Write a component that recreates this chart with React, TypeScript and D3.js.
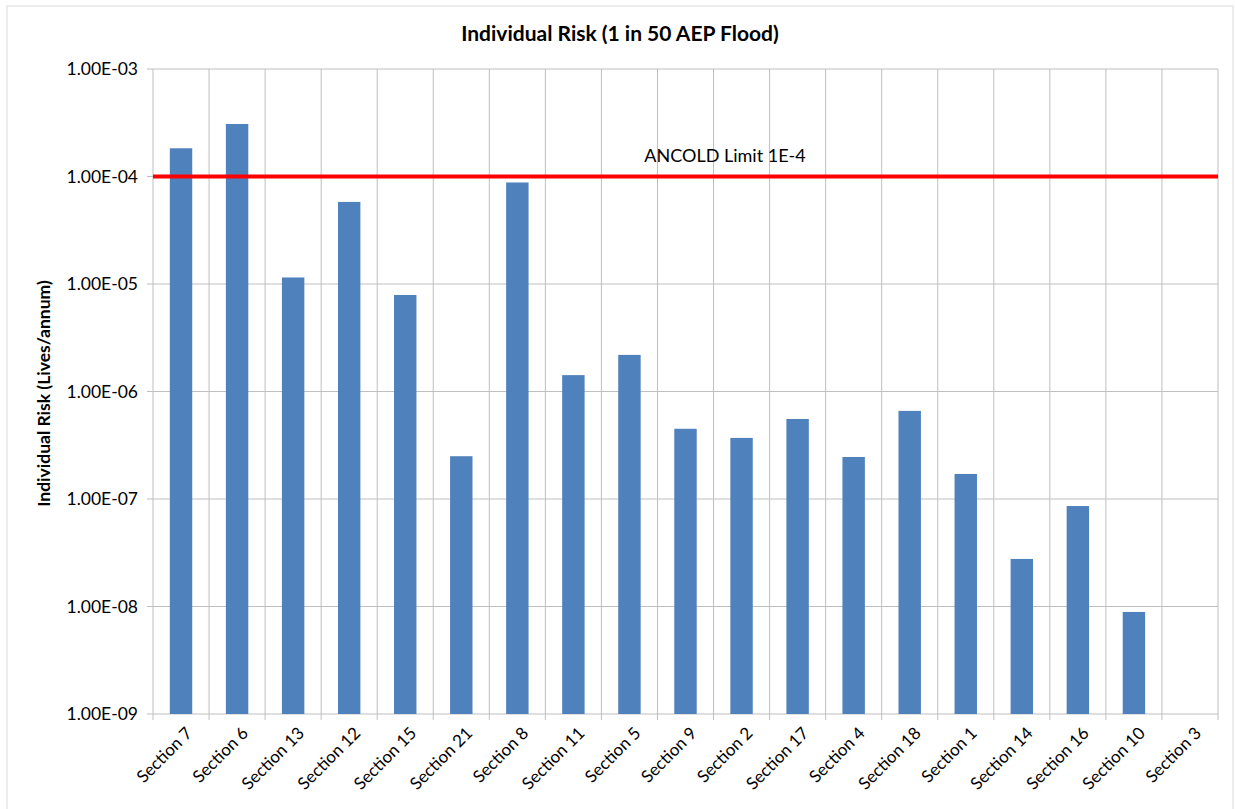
import React from "react";
import * as d3 from "d3";

const categories = [
  "Section 7", "Section 6", "Section 13", "Section 12", "Section 15", "Section 21",
  "Section 8", "Section 11", "Section 5", "Section 9", "Section 2", "Section 17",
  "Section 4", "Section 18", "Section 1", "Section 14", "Section 16", "Section 10", "Section 3",
];
const riskValues: (number | null)[] = [
  1.83e-4, 3.08e-4, 1.15e-5, 5.8e-5, 7.9e-6, 2.5e-7,
  8.8e-5, 1.42e-6, 2.19e-6, 4.5e-7, 3.7e-7, 5.55e-7,
  2.46e-7, 6.6e-7, 1.71e-7, 2.77e-8, 8.6e-8, 8.9e-9, null,
];
const yTicks = [1e-9, 1e-8, 1e-7, 1e-6, 1e-5, 1e-4, 1e-3];
const limitValue = 1e-4;
const limitLabel = "ANCOLD Limit 1E-4";
const title = "Individual Risk (1 in 50 AEP Flood)";
const yTitle = "Individual Risk (Lives/annum)";

const W = 1235, H = 809;
const left = 153, right = 1218, top = 69, bottom = 714;
const font = "Lato, 'Open Sans', sans-serif";

export default function App() {
  const x = d3.scaleBand<string>().domain(categories).range([left, right]).paddingInner(0.6).paddingOuter(0.3);
  const xb = d3.scaleBand<string>().domain(categories).range([left, right]);
  const y = d3.scaleLog().domain([1e-9, 1e-3]).range([bottom, top]);
  const fmt = (v: number) => v.toExponential(2).toUpperCase().replace(/E([+-])(\d)$/, "E$10$2");
  const bounds = categories.map((c) => xb(c)!).concat([right]);
  return (
    <svg width={W} height={H} style={{ position: "absolute", left: 0, top: 0, background: "#fff" }}>
      <rect x={7} y={6} width={1226} height={810} fill="#fff" stroke="#d9d9d9" strokeWidth={1} />
      <text x={620} y={41} textAnchor="middle" fontFamily={font} fontWeight="bold" fontSize={21} fill="#000">{title}</text>
      {yTicks.map((t) => (
        <g key={t}>
          <line x1={left - 6} x2={right} y1={y(t)} y2={y(t)} stroke="#bfbfbf" strokeWidth={1} />
          <text x={138} y={y(t)} dy="0.35em" textAnchor="end" fontFamily={font} fontSize={17.5} fill="#000">{fmt(t)}</text>
        </g>
      ))}
      {bounds.map((b, i) => (
        <line key={i} x1={b} x2={b} y1={top} y2={bottom + 6} stroke="#bfbfbf" strokeWidth={1} />
      ))}
      {categories.map((c, i) => {
        const v = riskValues[i];
        if (v == null) return null;
        return <rect key={c} x={x(c)} y={y(v)} width={x.bandwidth()} height={bottom - y(v)} fill="#4f81bd" />;
      })}
      <line x1={left} x2={right} y1={y(limitValue)} y2={y(limitValue)} stroke="#ff0000" strokeWidth={4} />
      <text x={725} y={y(limitValue) - 15} textAnchor="middle" fontFamily={font} fontSize={18} fill="#000">{limitLabel}</text>
      {categories.map((c) => {
        const cx = xb(c)! + xb.bandwidth() / 2 + 8;
        return (
          <text key={c} transform={`translate(${cx},${bottom + 16}) rotate(-45)`} textAnchor="end" dy="0.35em" fontFamily={font} fontSize={17} fill="#000">{c}</text>
        );
      })}
      <text transform={`translate(50,${(top + bottom) / 2 + 2}) rotate(-90)`} textAnchor="middle" fontFamily={font} fontWeight="bold" fontSize={17.5} fill="#000">{yTitle}</text>
    </svg>
  );
}
